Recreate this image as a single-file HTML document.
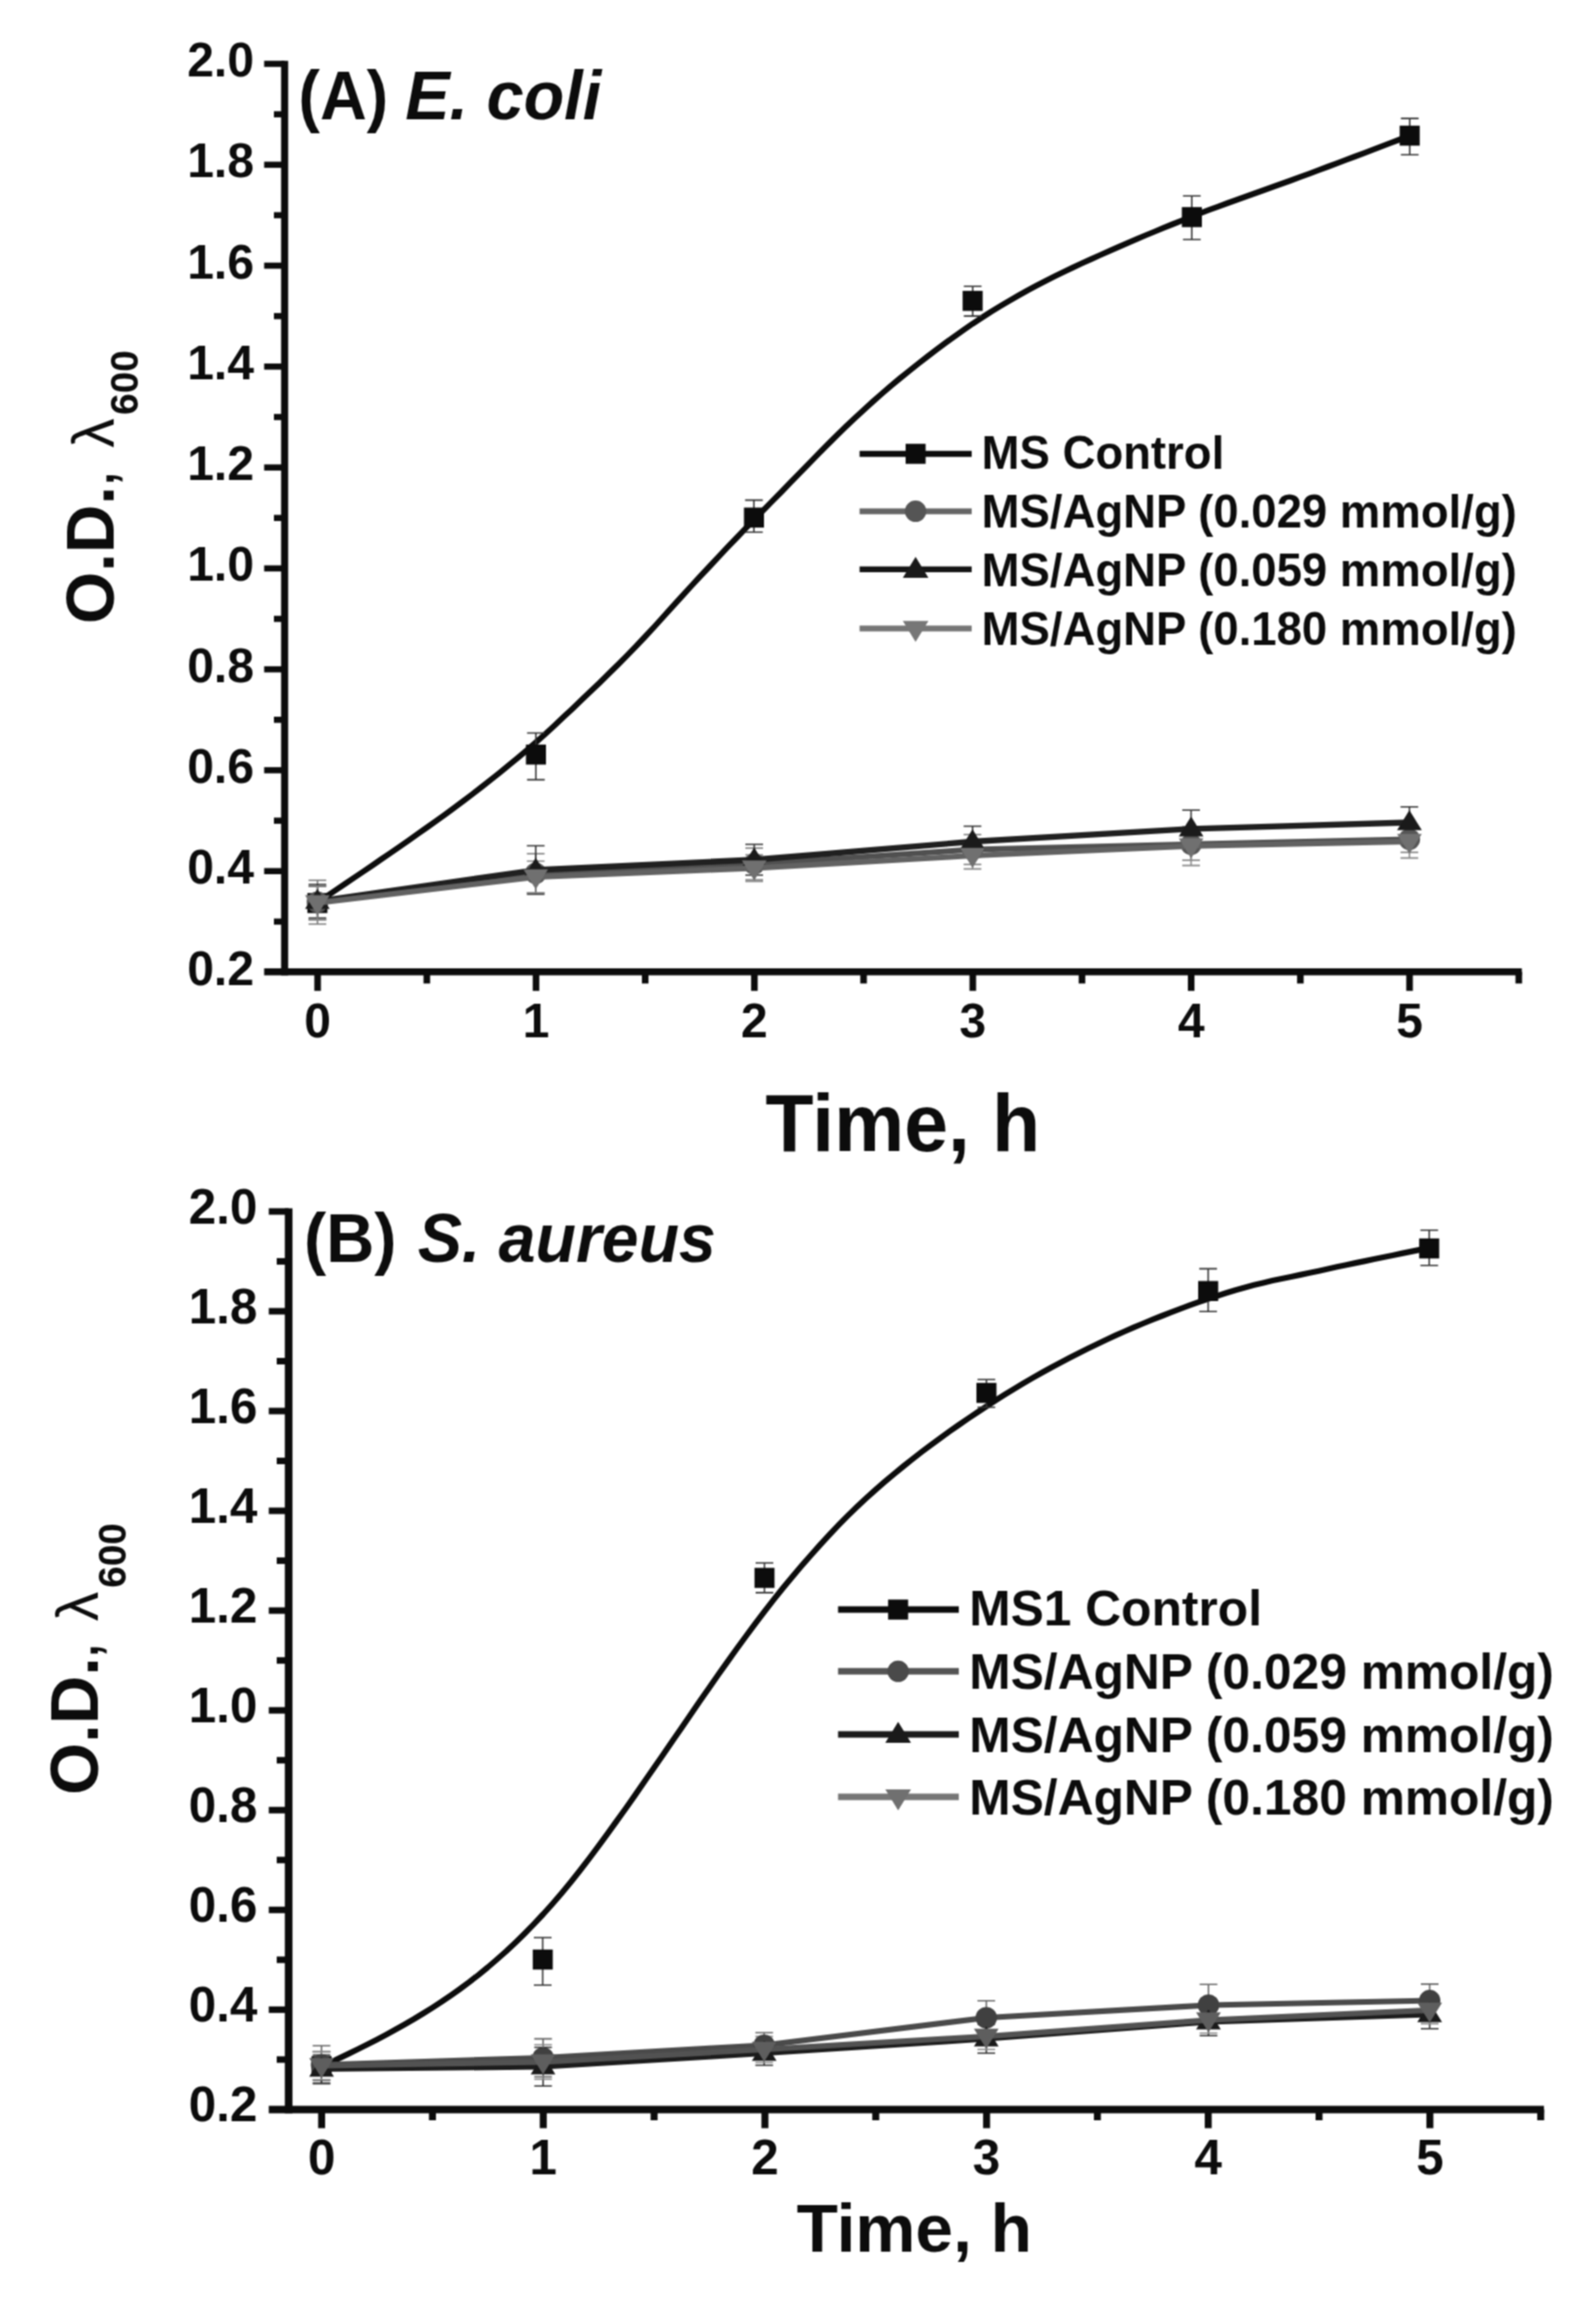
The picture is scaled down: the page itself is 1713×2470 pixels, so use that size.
<!DOCTYPE html>
<html lang="en"><head><meta charset="utf-8"><title>Growth curves</title>
<style>html,body{margin:0;padding:0;background:#fff}svg{display:block}text{font-family:'Liberation Sans', Arial, Helvetica, sans-serif}</style></head><body>
<svg width="1713" height="2470" viewBox="0 0 1713 2470">
<defs><filter id="soft" x="0" y="0" width="1713" height="2470" filterUnits="userSpaceOnUse" color-interpolation-filters="sRGB"><feConvolveMatrix order="3" kernelMatrix="1 2 1 2 4 2 1 2 1" divisor="16" edgeMode="duplicate" preserveAlpha="false"/></filter></defs>
<rect width="1713" height="2470" fill="#ffffff"/>
<g filter="url(#soft)">
<rect width="1713" height="2470" fill="#ffffff"/>
<path d="M341.0 968.1 L350.8 961.5 L360.5 955.0 L370.3 948.4 L380.1 941.8 L389.8 935.2 L399.6 928.6 L409.3 921.9 L419.1 915.2 L428.9 908.5 L438.6 901.7 L448.4 894.8 L458.2 887.9 L467.9 881.0 L477.7 873.9 L487.5 866.8 L497.2 859.5 L507.0 852.1 L516.8 844.5 L526.5 836.9 L536.3 829.1 L546.0 821.2 L555.8 813.1 L565.6 804.9 L575.3 796.4 L585.1 787.7 L594.9 778.7 L604.6 769.6 L614.4 760.4 L624.2 751.1 L633.9 741.8 L643.7 732.4 L653.5 722.8 L663.2 713.2 L673.0 703.4 L682.7 693.3 L692.5 683.0 L702.3 672.5 L712.0 661.7 L721.8 650.9 L731.6 640.1 L741.3 629.5 L751.1 618.9 L760.9 608.5 L770.6 598.1 L780.4 587.7 L790.2 577.5 L799.9 567.3 L809.7 557.3 L819.4 547.3 L829.2 537.4 L839.0 527.5 L848.7 517.4 L858.5 507.4 L868.3 497.3 L878.0 487.4 L887.8 477.5 L897.6 467.8 L907.3 458.3 L917.1 449.0 L926.9 439.9 L936.6 431.1 L946.4 422.5 L956.1 414.1 L965.9 406.0 L975.7 398.1 L985.4 390.3 L995.2 382.7 L1005.0 375.3 L1014.7 368.0 L1024.5 360.9 L1034.3 354.0 L1044.0 347.3 L1053.8 340.9 L1063.5 334.6 L1073.3 328.6 L1083.1 322.8 L1092.8 317.2 L1102.6 311.7 L1112.4 306.5 L1122.1 301.4 L1131.9 296.5 L1141.7 291.7 L1151.4 287.1 L1161.2 282.5 L1171.0 278.1 L1180.7 273.7 L1190.5 269.4 L1200.2 265.1 L1210.0 260.9 L1219.8 256.7 L1229.5 252.5 L1239.3 248.5 L1249.1 244.4 L1258.8 240.5 L1268.6 236.6 L1278.4 232.7 L1288.1 228.9 L1297.9 225.2 L1307.7 221.6 L1317.4 218.0 L1327.2 214.5 L1336.9 211.0 L1346.7 207.5 L1356.5 204.0 L1366.2 200.5 L1376.0 197.0 L1385.8 193.5 L1395.5 189.9 L1405.3 186.3 L1415.1 182.7 L1424.8 179.0 L1434.6 175.4 L1444.4 171.7 L1454.1 168.0 L1463.9 164.3 L1473.6 160.7 L1483.4 156.9 L1493.2 153.2 L1502.9 149.5 L1512.7 146.0" stroke="#0c0c0c" stroke-width="6.2" fill="none" stroke-linejoin="round"/>
<path d="M340.7 951.0V986.7M331.2 951.0h19.0M331.2 986.7h19.0" stroke="#333" stroke-width="1.6" fill="none"/>
<rect x="329.9" y="958.2" width="21.5" height="21.5" fill="#0c0c0c"/>
<path d="M575.2 786.5V836.6M565.7 786.5h19.0M565.7 836.6h19.0" stroke="#333" stroke-width="1.6" fill="none"/>
<rect x="564.5" y="798.9" width="21.5" height="21.5" fill="#0c0c0c"/>
<path d="M809.2 536.6V571.0M799.7 536.6h19.0M799.7 571.0h19.0" stroke="#333" stroke-width="1.6" fill="none"/>
<rect x="798.5" y="544.6" width="21.5" height="21.5" fill="#0c0c0c"/>
<path d="M1044.0 307.3V339.1M1034.5 307.3h19.0M1034.5 339.1h19.0" stroke="#333" stroke-width="1.6" fill="none"/>
<rect x="1033.2" y="312.1" width="21.5" height="21.5" fill="#0c0c0c"/>
<path d="M1279.2 210.2V257.0M1269.7 210.2h19.0M1269.7 257.0h19.0" stroke="#333" stroke-width="1.6" fill="none"/>
<rect x="1268.5" y="222.2" width="21.5" height="21.5" fill="#0c0c0c"/>
<path d="M1513.1 127.1V166.0M1503.6 127.1h19.0M1503.6 166.0h19.0" stroke="#333" stroke-width="1.6" fill="none"/>
<rect x="1502.3" y="134.8" width="21.5" height="21.5" fill="#0c0c0c"/>
<path d="M340.7 944.5V991.5M331.2 944.5h19.0M331.2 991.5h19.0" stroke="#777" stroke-width="1.6" fill="none"/>
<path d="M575.0 916.0V958.0M565.5 916.0h19.0M565.5 958.0h19.0" stroke="#777" stroke-width="1.6" fill="none"/>
<path d="M809.5 910.0V944.0M800.0 910.0h19.0M800.0 944.0h19.0" stroke="#777" stroke-width="1.6" fill="none"/>
<path d="M1043.8 895.5V927.5M1034.3 895.5h19.0M1034.3 927.5h19.0" stroke="#777" stroke-width="1.6" fill="none"/>
<path d="M1278.4 888.6V923.0M1268.9 888.6h19.0M1268.9 923.0h19.0" stroke="#777" stroke-width="1.6" fill="none"/>
<path d="M1512.7 886.5V914.5M1503.2 886.5h19.0M1503.2 914.5h19.0" stroke="#777" stroke-width="1.6" fill="none"/>
<path d="M340.7 949.0V985.0M331.2 949.0h19.0M331.2 985.0h19.0" stroke="#333" stroke-width="1.6" fill="none"/>
<path d="M575.0 907.5V959.5M565.5 907.5h19.0M565.5 959.5h19.0" stroke="#333" stroke-width="1.6" fill="none"/>
<path d="M809.5 906.0V939.0M800.0 906.0h19.0M800.0 939.0h19.0" stroke="#333" stroke-width="1.6" fill="none"/>
<path d="M1043.8 886.5V919.5M1034.3 886.5h19.0M1034.3 919.5h19.0" stroke="#333" stroke-width="1.6" fill="none"/>
<path d="M1278.4 869.3V909.3M1268.9 869.3h19.0M1268.9 909.3h19.0" stroke="#333" stroke-width="1.6" fill="none"/>
<path d="M1512.7 865.8V899.2M1503.2 865.8h19.0M1503.2 899.2h19.0" stroke="#333" stroke-width="1.6" fill="none"/>
<path d="M340.7 950.8V986.8M331.2 950.8h19.0M331.2 986.8h19.0" stroke="#888" stroke-width="1.6" fill="none"/>
<path d="M575.0 924.0V958.0M565.5 924.0h19.0M565.5 958.0h19.0" stroke="#888" stroke-width="1.6" fill="none"/>
<path d="M809.5 917.2V945.8M800.0 917.2h19.0M800.0 945.8h19.0" stroke="#888" stroke-width="1.6" fill="none"/>
<path d="M1043.8 903.6V932.4M1034.3 903.6h19.0M1034.3 932.4h19.0" stroke="#888" stroke-width="1.6" fill="none"/>
<path d="M1278.4 887.0V928.6M1268.9 887.0h19.0M1268.9 928.6h19.0" stroke="#888" stroke-width="1.6" fill="none"/>
<path d="M1512.7 885.4V920.6M1503.2 885.4h19.0M1503.2 920.6h19.0" stroke="#888" stroke-width="1.6" fill="none"/>
<path d="M340.7 968.0 L575.0 937.0 L809.5 927.0 L1043.8 911.5 L1278.4 905.8 L1512.7 900.5" stroke="#505050" stroke-width="6.0" fill="none" stroke-linejoin="round"/>
<circle cx="340.7" cy="968.0" r="11.5" fill="#555555"/>
<circle cx="575.0" cy="937.0" r="11.5" fill="#555555"/>
<circle cx="809.5" cy="927.0" r="11.5" fill="#555555"/>
<circle cx="1043.8" cy="911.5" r="11.5" fill="#555555"/>
<circle cx="1278.4" cy="905.8" r="11.5" fill="#555555"/>
<circle cx="1512.7" cy="900.5" r="11.5" fill="#555555"/>
<path d="M340.7 967.0 L575.0 933.5 L809.5 922.5 L1043.8 903.0 L1278.4 889.3 L1512.7 882.5" stroke="#202020" stroke-width="6.3" fill="none" stroke-linejoin="round"/>
<path d="M340.7 953.7L353.9 975.2L327.4 975.2Z" fill="#1a1a1a"/>
<path d="M575.0 920.2L588.2 941.7L561.8 941.7Z" fill="#1a1a1a"/>
<path d="M809.5 909.2L822.8 930.7L796.2 930.7Z" fill="#1a1a1a"/>
<path d="M1043.8 889.7L1057.0 911.2L1030.5 911.2Z" fill="#1a1a1a"/>
<path d="M1278.4 876.0L1291.7 897.5L1265.2 897.5Z" fill="#1a1a1a"/>
<path d="M1512.7 869.2L1526.0 890.7L1499.5 890.7Z" fill="#1a1a1a"/>
<path d="M340.7 968.8 L575.0 941.0 L809.5 931.5 L1043.8 918.0 L1278.4 907.8 L1512.7 903.0" stroke="#626262" stroke-width="6.0" fill="none" stroke-linejoin="round"/>
<path d="M340.7 982.1L353.9 960.6L327.4 960.6Z" fill="#707070"/>
<path d="M575.0 954.3L588.2 932.8L561.8 932.8Z" fill="#707070"/>
<path d="M809.5 944.8L822.8 923.3L796.2 923.3Z" fill="#707070"/>
<path d="M1043.8 931.3L1057.0 909.8L1030.5 909.8Z" fill="#707070"/>
<path d="M1278.4 921.1L1291.7 899.6L1265.2 899.6Z" fill="#707070"/>
<path d="M1512.7 916.3L1526.0 894.8L1499.5 894.8Z" fill="#707070"/>
<g fill="none" stroke="#0c0c0c">
<line x1="305.50" y1="65.20" x2="305.50" y2="1046.60" stroke="#0c0c0c" stroke-width="7.60"/>
<line x1="283.50" y1="1042.80" x2="1633.40" y2="1042.80" stroke="#0c0c0c" stroke-width="7.60"/>
<line x1="283.50" y1="68.50" x2="305.50" y2="68.50" stroke="#0c0c0c" stroke-width="6.60"/>
<line x1="294.00" y1="122.64" x2="305.50" y2="122.64" stroke="#0c0c0c" stroke-width="6.60"/>
<line x1="283.50" y1="176.78" x2="305.50" y2="176.78" stroke="#0c0c0c" stroke-width="6.60"/>
<line x1="294.00" y1="230.92" x2="305.50" y2="230.92" stroke="#0c0c0c" stroke-width="6.60"/>
<line x1="283.50" y1="285.06" x2="305.50" y2="285.06" stroke="#0c0c0c" stroke-width="6.60"/>
<line x1="294.00" y1="339.19" x2="305.50" y2="339.19" stroke="#0c0c0c" stroke-width="6.60"/>
<line x1="283.50" y1="393.33" x2="305.50" y2="393.33" stroke="#0c0c0c" stroke-width="6.60"/>
<line x1="294.00" y1="447.47" x2="305.50" y2="447.47" stroke="#0c0c0c" stroke-width="6.60"/>
<line x1="283.50" y1="501.61" x2="305.50" y2="501.61" stroke="#0c0c0c" stroke-width="6.60"/>
<line x1="294.00" y1="555.75" x2="305.50" y2="555.75" stroke="#0c0c0c" stroke-width="6.60"/>
<line x1="283.50" y1="609.89" x2="305.50" y2="609.89" stroke="#0c0c0c" stroke-width="6.60"/>
<line x1="294.00" y1="664.03" x2="305.50" y2="664.03" stroke="#0c0c0c" stroke-width="6.60"/>
<line x1="283.50" y1="718.17" x2="305.50" y2="718.17" stroke="#0c0c0c" stroke-width="6.60"/>
<line x1="294.00" y1="772.31" x2="305.50" y2="772.31" stroke="#0c0c0c" stroke-width="6.60"/>
<line x1="283.50" y1="826.44" x2="305.50" y2="826.44" stroke="#0c0c0c" stroke-width="6.60"/>
<line x1="294.00" y1="880.58" x2="305.50" y2="880.58" stroke="#0c0c0c" stroke-width="6.60"/>
<line x1="283.50" y1="934.72" x2="305.50" y2="934.72" stroke="#0c0c0c" stroke-width="6.60"/>
<line x1="294.00" y1="988.86" x2="305.50" y2="988.86" stroke="#0c0c0c" stroke-width="6.60"/>
<line x1="340.90" y1="1042.80" x2="340.90" y2="1063.20" stroke="#0c0c0c" stroke-width="7.10"/>
<line x1="458.10" y1="1042.80" x2="458.10" y2="1055.30" stroke="#0c0c0c" stroke-width="7.10"/>
<line x1="575.30" y1="1042.80" x2="575.30" y2="1063.20" stroke="#0c0c0c" stroke-width="7.10"/>
<line x1="692.50" y1="1042.80" x2="692.50" y2="1055.30" stroke="#0c0c0c" stroke-width="7.10"/>
<line x1="809.70" y1="1042.80" x2="809.70" y2="1063.20" stroke="#0c0c0c" stroke-width="7.10"/>
<line x1="926.90" y1="1042.80" x2="926.90" y2="1055.30" stroke="#0c0c0c" stroke-width="7.10"/>
<line x1="1044.10" y1="1042.80" x2="1044.10" y2="1063.20" stroke="#0c0c0c" stroke-width="7.10"/>
<line x1="1161.30" y1="1042.80" x2="1161.30" y2="1055.30" stroke="#0c0c0c" stroke-width="7.10"/>
<line x1="1278.50" y1="1042.80" x2="1278.50" y2="1063.20" stroke="#0c0c0c" stroke-width="7.10"/>
<line x1="1395.70" y1="1042.80" x2="1395.70" y2="1055.30" stroke="#0c0c0c" stroke-width="7.10"/>
<line x1="1512.90" y1="1042.80" x2="1512.90" y2="1063.20" stroke="#0c0c0c" stroke-width="7.10"/>
<line x1="1630.10" y1="1042.80" x2="1630.10" y2="1055.30" stroke="#0c0c0c" stroke-width="7.10"/>
</g>
<text transform="translate(272.60 82.10) scale(0.9920 1)" font-size="52" font-weight="700" text-anchor="end" fill="#0c0c0c">2.0</text>
<text transform="translate(272.60 190.38) scale(0.9920 1)" font-size="52" font-weight="700" text-anchor="end" fill="#0c0c0c">1.8</text>
<text transform="translate(272.60 298.66) scale(0.9920 1)" font-size="52" font-weight="700" text-anchor="end" fill="#0c0c0c">1.6</text>
<text transform="translate(272.60 406.93) scale(0.9920 1)" font-size="52" font-weight="700" text-anchor="end" fill="#0c0c0c">1.4</text>
<text transform="translate(272.60 515.21) scale(0.9920 1)" font-size="52" font-weight="700" text-anchor="end" fill="#0c0c0c">1.2</text>
<text transform="translate(272.60 623.49) scale(0.9920 1)" font-size="52" font-weight="700" text-anchor="end" fill="#0c0c0c">1.0</text>
<text transform="translate(272.60 731.77) scale(0.9920 1)" font-size="52" font-weight="700" text-anchor="end" fill="#0c0c0c">0.8</text>
<text transform="translate(272.60 840.04) scale(0.9920 1)" font-size="52" font-weight="700" text-anchor="end" fill="#0c0c0c">0.6</text>
<text transform="translate(272.60 948.32) scale(0.9920 1)" font-size="52" font-weight="700" text-anchor="end" fill="#0c0c0c">0.4</text>
<text transform="translate(272.60 1056.60) scale(0.9920 1)" font-size="52" font-weight="700" text-anchor="end" fill="#0c0c0c">0.2</text>
<text transform="translate(340.90 1112.80) scale(0.9920 1)" font-size="52" font-weight="700" text-anchor="middle" fill="#0c0c0c">0</text>
<text transform="translate(575.30 1112.80) scale(0.9920 1)" font-size="52" font-weight="700" text-anchor="middle" fill="#0c0c0c">1</text>
<text transform="translate(809.70 1112.80) scale(0.9920 1)" font-size="52" font-weight="700" text-anchor="middle" fill="#0c0c0c">2</text>
<text transform="translate(1044.10 1112.80) scale(0.9920 1)" font-size="52" font-weight="700" text-anchor="middle" fill="#0c0c0c">3</text>
<text transform="translate(1278.50 1112.80) scale(0.9920 1)" font-size="52" font-weight="700" text-anchor="middle" fill="#0c0c0c">4</text>
<text transform="translate(1512.90 1112.80) scale(0.9920 1)" font-size="52" font-weight="700" text-anchor="middle" fill="#0c0c0c">5</text>
<text transform="translate(320.30 128.40) scale(0.9450 1)" font-size="73.5" font-weight="700" fill="#0c0c0c">(A)</text>
<text transform="translate(434.90 128.40) scale(0.9720 1)" font-size="73.5" font-weight="700" font-style="italic" fill="#0c0c0c">E. coli</text>
<text transform="translate(821.60 1235.30) scale(0.9620 1)" font-size="88" font-weight="700" fill="#0c0c0c">Time, h</text>
<text transform="translate(121.60 669.40) rotate(-90) scale(0.9850 1)" font-size="73" font-weight="700" fill="#0c0c0c">O.D.</text>
<text transform="translate(121.60 523.50) rotate(-90)" font-size="72" font-weight="400" fill="#0c0c0c">,</text>
<text transform="translate(121.60 480.50) rotate(-90)" font-size="63" font-weight="400" fill="#0c0c0c">λ</text>
<text transform="translate(148.20 445.30) rotate(-90) scale(0.9700 1)" font-size="43" font-weight="700" fill="#0c0c0c">600</text>
<line x1="922.60" y1="487.00" x2="1042.90" y2="487.00" stroke="#0c0c0c" stroke-width="6.30"/>
<rect x="972.0" y="476.2" width="21.5" height="21.5" fill="#0c0c0c"/>
<text transform="translate(1053.60 502.60) scale(0.9890 1)" font-size="49.4" font-weight="700" fill="#0c0c0c">MS Control</text>
<line x1="922.60" y1="548.60" x2="1042.90" y2="548.60" stroke="#666666" stroke-width="6.30"/>
<circle cx="982.7" cy="548.6" r="11.5" fill="#555555"/>
<text transform="translate(1053.60 566.00) scale(0.9890 1)" font-size="49.4" font-weight="700" fill="#0c0c0c">MS/AgNP (0.029 mmol/g)</text>
<line x1="922.60" y1="610.90" x2="1042.90" y2="610.90" stroke="#161616" stroke-width="6.30"/>
<path d="M982.7 597.4L996.5 619.9L969.0 619.9Z" fill="#1a1a1a"/>
<text transform="translate(1053.60 629.20) scale(0.9890 1)" font-size="49.4" font-weight="700" fill="#0c0c0c">MS/AgNP (0.059 mmol/g)</text>
<line x1="922.60" y1="674.30" x2="1042.90" y2="674.30" stroke="#767676" stroke-width="6.30"/>
<path d="M982.7 688.8L996.5 666.2L969.0 666.2Z" fill="#777777"/>
<text transform="translate(1053.60 692.30) scale(0.9890 1)" font-size="49.4" font-weight="700" fill="#0c0c0c">MS/AgNP (0.180 mmol/g)</text>
<path d="M345.0 2217.4 L354.9 2212.8 L364.8 2208.1 L374.7 2203.4 L384.6 2198.5 L394.6 2193.5 L404.5 2188.4 L414.4 2183.2 L424.3 2177.8 L434.2 2172.2 L444.1 2166.5 L454.0 2160.5 L463.9 2154.3 L473.8 2147.9 L483.8 2141.1 L493.7 2134.1 L503.6 2126.8 L513.5 2119.1 L523.4 2111.0 L533.3 2102.5 L543.2 2093.7 L553.1 2084.4 L563.0 2074.7 L572.9 2064.6 L582.9 2054.0 L592.8 2043.0 L602.7 2031.5 L612.6 2019.5 L622.5 2007.0 L632.4 1994.1 L642.3 1980.9 L652.2 1967.4 L662.1 1953.6 L672.1 1939.7 L682.0 1925.6 L691.9 1911.3 L701.8 1897.0 L711.7 1882.7 L721.6 1868.3 L731.5 1853.9 L741.4 1839.5 L751.3 1825.1 L761.3 1810.8 L771.2 1796.6 L781.1 1782.6 L791.0 1768.8 L800.9 1755.2 L810.8 1741.9 L820.7 1728.8 L830.6 1716.1 L840.5 1703.8 L850.5 1691.8 L860.4 1680.1 L870.3 1668.7 L880.2 1657.6 L890.1 1646.8 L900.0 1636.4 L909.9 1626.4 L919.8 1616.8 L929.7 1607.5 L939.6 1598.6 L949.6 1589.9 L959.5 1581.6 L969.4 1573.5 L979.3 1565.6 L989.2 1557.9 L999.1 1550.5 L1009.0 1543.2 L1018.9 1536.1 L1028.8 1529.1 L1038.8 1522.3 L1048.7 1515.6 L1058.6 1509.1 L1068.5 1502.7 L1078.4 1496.4 L1088.3 1490.4 L1098.2 1484.4 L1108.1 1478.6 L1118.0 1473.0 L1128.0 1467.5 L1137.9 1462.2 L1147.8 1457.0 L1157.7 1451.9 L1167.6 1447.0 L1177.5 1442.2 L1187.4 1437.5 L1197.3 1432.9 L1207.2 1428.5 L1217.2 1424.2 L1227.1 1420.0 L1237.0 1415.9 L1246.9 1412.0 L1256.8 1408.1 L1266.7 1404.4 L1276.6 1400.7 L1286.5 1397.2 L1296.4 1393.8 L1306.4 1390.5 L1316.3 1387.3 L1326.2 1384.2 L1336.1 1381.4 L1346.0 1378.8 L1355.9 1376.4 L1365.8 1374.1 L1375.7 1372.0 L1385.6 1370.0 L1395.5 1367.9 L1405.5 1365.8 L1415.4 1363.7 L1425.3 1361.5 L1435.2 1359.3 L1445.1 1357.2 L1455.0 1355.1 L1464.9 1353.1 L1474.8 1351.0 L1484.7 1349.0 L1494.7 1347.0 L1504.6 1344.9 L1514.5 1342.9 L1524.4 1340.9 L1534.3 1339.1" stroke="#0c0c0c" stroke-width="6.2" fill="none" stroke-linejoin="round"/>
<path d="M345.1 2201.5V2232.0M335.6 2201.5h19.0M335.6 2232.0h19.0" stroke="#333" stroke-width="1.6" fill="none"/>
<rect x="334.4" y="2206.2" width="21.5" height="21.5" fill="#0c0c0c"/>
<path d="M582.5 2079.0V2130.0M573.0 2079.0h19.0M573.0 2130.0h19.0" stroke="#333" stroke-width="1.6" fill="none"/>
<rect x="571.8" y="2091.8" width="21.5" height="21.5" fill="#0c0c0c"/>
<path d="M820.5 1677.0V1708.9M811.0 1677.0h19.0M811.0 1708.9h19.0" stroke="#333" stroke-width="1.6" fill="none"/>
<rect x="809.8" y="1682.3" width="21.5" height="21.5" fill="#0c0c0c"/>
<path d="M1058.7 1480.2V1510.0M1049.2 1480.2h19.0M1049.2 1510.0h19.0" stroke="#333" stroke-width="1.6" fill="none"/>
<rect x="1048.0" y="1483.8" width="21.5" height="21.5" fill="#0c0c0c"/>
<path d="M1296.7 1361.4V1407.3M1287.2 1361.4h19.0M1287.2 1407.3h19.0" stroke="#333" stroke-width="1.6" fill="none"/>
<rect x="1286.0" y="1374.5" width="21.5" height="21.5" fill="#0c0c0c"/>
<path d="M1534.0 1320.0V1357.7M1524.5 1320.0h19.0M1524.5 1357.7h19.0" stroke="#333" stroke-width="1.6" fill="none"/>
<rect x="1523.2" y="1328.8" width="21.5" height="21.5" fill="#0c0c0c"/>
<path d="M345.1 2195.0V2236.0M335.6 2195.0h19.0M335.6 2236.0h19.0" stroke="#666" stroke-width="1.6" fill="none"/>
<path d="M582.9 2187.6V2228.4M573.4 2187.6h19.0M573.4 2228.4h19.0" stroke="#666" stroke-width="1.6" fill="none"/>
<path d="M820.2 2181.0V2208.0M810.7 2181.0h19.0M810.7 2208.0h19.0" stroke="#666" stroke-width="1.6" fill="none"/>
<path d="M1058.6 2146.8V2183.2M1049.1 2146.8h19.0M1049.1 2183.2h19.0" stroke="#666" stroke-width="1.6" fill="none"/>
<path d="M1297.1 2129.2V2173.8M1287.6 2129.2h19.0M1287.6 2173.8h19.0" stroke="#666" stroke-width="1.6" fill="none"/>
<path d="M1534.5 2128.9V2164.3M1525.0 2128.9h19.0M1525.0 2164.3h19.0" stroke="#666" stroke-width="1.6" fill="none"/>
<path d="M345.1 2205.0V2235.0M335.6 2205.0h19.0M335.6 2235.0h19.0" stroke="#333" stroke-width="1.6" fill="none"/>
<path d="M582.9 2196.7V2238.3M573.4 2196.7h19.0M573.4 2238.3h19.0" stroke="#333" stroke-width="1.6" fill="none"/>
<path d="M820.2 2190.0V2216.0M810.7 2190.0h19.0M810.7 2216.0h19.0" stroke="#333" stroke-width="1.6" fill="none"/>
<path d="M1058.6 2172.0V2203.0M1049.1 2172.0h19.0M1049.1 2203.0h19.0" stroke="#333" stroke-width="1.6" fill="none"/>
<path d="M1297.1 2154.3V2184.3M1287.6 2154.3h19.0M1287.6 2184.3h19.0" stroke="#333" stroke-width="1.6" fill="none"/>
<path d="M1534.5 2146.3V2176.7M1525.0 2146.3h19.0M1525.0 2176.7h19.0" stroke="#333" stroke-width="1.6" fill="none"/>
<path d="M345.1 2201.5V2231.5M335.6 2201.5h19.0M335.6 2231.5h19.0" stroke="#888" stroke-width="1.6" fill="none"/>
<path d="M582.9 2194.0V2231.0M573.4 2194.0h19.0M573.4 2231.0h19.0" stroke="#888" stroke-width="1.6" fill="none"/>
<path d="M820.2 2185.0V2213.0M810.7 2185.0h19.0M810.7 2213.0h19.0" stroke="#888" stroke-width="1.6" fill="none"/>
<path d="M1058.6 2171.0V2199.0M1049.1 2171.0h19.0M1049.1 2199.0h19.0" stroke="#888" stroke-width="1.6" fill="none"/>
<path d="M1297.1 2153.5V2181.5M1287.6 2153.5h19.0M1287.6 2181.5h19.0" stroke="#888" stroke-width="1.6" fill="none"/>
<path d="M1534.5 2142.6V2171.4M1525.0 2142.6h19.0M1525.0 2171.4h19.0" stroke="#888" stroke-width="1.6" fill="none"/>
<path d="M345.1 2215.5 L582.9 2208.0 L820.2 2194.5 L1058.6 2165.0 L1297.1 2151.5 L1534.5 2146.6" stroke="#4a4a4a" stroke-width="6.2" fill="none" stroke-linejoin="round"/>
<circle cx="345.1" cy="2215.5" r="11.5" fill="#404040"/>
<circle cx="582.9" cy="2208.0" r="11.5" fill="#404040"/>
<circle cx="820.2" cy="2194.5" r="11.5" fill="#404040"/>
<circle cx="1058.6" cy="2165.0" r="11.5" fill="#404040"/>
<circle cx="1297.1" cy="2151.5" r="11.5" fill="#404040"/>
<circle cx="1534.5" cy="2146.6" r="11.5" fill="#404040"/>
<path d="M345.1 2220.0 L582.9 2217.5 L820.2 2203.0 L1058.6 2187.5 L1297.1 2169.3 L1534.5 2161.5" stroke="#1c1c1c" stroke-width="6.2" fill="none" stroke-linejoin="round"/>
<path d="M345.1 2206.7L358.4 2228.2L331.9 2228.2Z" fill="#1a1a1a"/>
<path d="M582.9 2204.2L596.1 2225.7L569.6 2225.7Z" fill="#1a1a1a"/>
<path d="M820.2 2189.7L833.5 2211.2L807.0 2211.2Z" fill="#1a1a1a"/>
<path d="M1058.6 2174.2L1071.8 2195.7L1045.3 2195.7Z" fill="#1a1a1a"/>
<path d="M1297.1 2156.0L1310.3 2177.5L1283.8 2177.5Z" fill="#1a1a1a"/>
<path d="M1534.5 2148.2L1547.8 2169.7L1521.2 2169.7Z" fill="#1a1a1a"/>
<path d="M345.1 2216.5 L582.9 2212.5 L820.2 2199.0 L1058.6 2185.0 L1297.1 2167.5 L1534.5 2157.0" stroke="#525252" stroke-width="6.0" fill="none" stroke-linejoin="round"/>
<path d="M345.1 2229.8L358.4 2208.3L331.9 2208.3Z" fill="#5e5e5e"/>
<path d="M582.9 2225.8L596.1 2204.3L569.6 2204.3Z" fill="#5e5e5e"/>
<path d="M820.2 2212.3L833.5 2190.8L807.0 2190.8Z" fill="#5e5e5e"/>
<path d="M1058.6 2198.3L1071.8 2176.8L1045.3 2176.8Z" fill="#5e5e5e"/>
<path d="M1297.1 2180.8L1310.3 2159.3L1283.8 2159.3Z" fill="#5e5e5e"/>
<path d="M1534.5 2170.3L1547.8 2148.8L1521.2 2148.8Z" fill="#5e5e5e"/>
<g fill="none" stroke="#0c0c0c">
<line x1="309.80" y1="1296.40" x2="309.80" y2="2267.40" stroke="#0c0c0c" stroke-width="8.20"/>
<line x1="288.50" y1="2263.40" x2="1657.15" y2="2263.40" stroke="#0c0c0c" stroke-width="8.00"/>
<line x1="288.50" y1="1299.90" x2="309.80" y2="1299.90" stroke="#0c0c0c" stroke-width="7.00"/>
<line x1="297.00" y1="1353.43" x2="309.80" y2="1353.43" stroke="#0c0c0c" stroke-width="7.00"/>
<line x1="288.50" y1="1406.96" x2="309.80" y2="1406.96" stroke="#0c0c0c" stroke-width="7.00"/>
<line x1="297.00" y1="1460.48" x2="309.80" y2="1460.48" stroke="#0c0c0c" stroke-width="7.00"/>
<line x1="288.50" y1="1514.01" x2="309.80" y2="1514.01" stroke="#0c0c0c" stroke-width="7.00"/>
<line x1="297.00" y1="1567.54" x2="309.80" y2="1567.54" stroke="#0c0c0c" stroke-width="7.00"/>
<line x1="288.50" y1="1621.07" x2="309.80" y2="1621.07" stroke="#0c0c0c" stroke-width="7.00"/>
<line x1="297.00" y1="1674.59" x2="309.80" y2="1674.59" stroke="#0c0c0c" stroke-width="7.00"/>
<line x1="288.50" y1="1728.12" x2="309.80" y2="1728.12" stroke="#0c0c0c" stroke-width="7.00"/>
<line x1="297.00" y1="1781.65" x2="309.80" y2="1781.65" stroke="#0c0c0c" stroke-width="7.00"/>
<line x1="288.50" y1="1835.18" x2="309.80" y2="1835.18" stroke="#0c0c0c" stroke-width="7.00"/>
<line x1="297.00" y1="1888.71" x2="309.80" y2="1888.71" stroke="#0c0c0c" stroke-width="7.00"/>
<line x1="288.50" y1="1942.23" x2="309.80" y2="1942.23" stroke="#0c0c0c" stroke-width="7.00"/>
<line x1="297.00" y1="1995.76" x2="309.80" y2="1995.76" stroke="#0c0c0c" stroke-width="7.00"/>
<line x1="288.50" y1="2049.29" x2="309.80" y2="2049.29" stroke="#0c0c0c" stroke-width="7.00"/>
<line x1="297.00" y1="2102.82" x2="309.80" y2="2102.82" stroke="#0c0c0c" stroke-width="7.00"/>
<line x1="288.50" y1="2156.34" x2="309.80" y2="2156.34" stroke="#0c0c0c" stroke-width="7.00"/>
<line x1="297.00" y1="2209.87" x2="309.80" y2="2209.87" stroke="#0c0c0c" stroke-width="7.00"/>
<line x1="345.20" y1="2263.40" x2="345.20" y2="2283.50" stroke="#0c0c0c" stroke-width="7.50"/>
<line x1="464.15" y1="2263.40" x2="464.15" y2="2275.00" stroke="#0c0c0c" stroke-width="7.50"/>
<line x1="583.10" y1="2263.40" x2="583.10" y2="2283.50" stroke="#0c0c0c" stroke-width="7.50"/>
<line x1="702.05" y1="2263.40" x2="702.05" y2="2275.00" stroke="#0c0c0c" stroke-width="7.50"/>
<line x1="821.00" y1="2263.40" x2="821.00" y2="2283.50" stroke="#0c0c0c" stroke-width="7.50"/>
<line x1="939.95" y1="2263.40" x2="939.95" y2="2275.00" stroke="#0c0c0c" stroke-width="7.50"/>
<line x1="1058.90" y1="2263.40" x2="1058.90" y2="2283.50" stroke="#0c0c0c" stroke-width="7.50"/>
<line x1="1177.85" y1="2263.40" x2="1177.85" y2="2275.00" stroke="#0c0c0c" stroke-width="7.50"/>
<line x1="1296.80" y1="2263.40" x2="1296.80" y2="2283.50" stroke="#0c0c0c" stroke-width="7.50"/>
<line x1="1415.75" y1="2263.40" x2="1415.75" y2="2275.00" stroke="#0c0c0c" stroke-width="7.50"/>
<line x1="1534.70" y1="2263.40" x2="1534.70" y2="2283.50" stroke="#0c0c0c" stroke-width="7.50"/>
<line x1="1653.65" y1="2263.40" x2="1653.65" y2="2275.00" stroke="#0c0c0c" stroke-width="7.50"/>
</g>
<text transform="translate(276.40 1312.80) scale(0.9750 1)" font-size="54.5" font-weight="700" text-anchor="end" fill="#0c0c0c">2.0</text>
<text transform="translate(276.40 1419.86) scale(0.9750 1)" font-size="54.5" font-weight="700" text-anchor="end" fill="#0c0c0c">1.8</text>
<text transform="translate(276.40 1526.91) scale(0.9750 1)" font-size="54.5" font-weight="700" text-anchor="end" fill="#0c0c0c">1.6</text>
<text transform="translate(276.40 1633.97) scale(0.9750 1)" font-size="54.5" font-weight="700" text-anchor="end" fill="#0c0c0c">1.4</text>
<text transform="translate(276.40 1741.02) scale(0.9750 1)" font-size="54.5" font-weight="700" text-anchor="end" fill="#0c0c0c">1.2</text>
<text transform="translate(276.40 1848.08) scale(0.9750 1)" font-size="54.5" font-weight="700" text-anchor="end" fill="#0c0c0c">1.0</text>
<text transform="translate(276.40 1955.13) scale(0.9750 1)" font-size="54.5" font-weight="700" text-anchor="end" fill="#0c0c0c">0.8</text>
<text transform="translate(276.40 2062.19) scale(0.9750 1)" font-size="54.5" font-weight="700" text-anchor="end" fill="#0c0c0c">0.6</text>
<text transform="translate(276.40 2169.24) scale(0.9750 1)" font-size="54.5" font-weight="700" text-anchor="end" fill="#0c0c0c">0.4</text>
<text transform="translate(276.40 2276.30) scale(0.9750 1)" font-size="54.5" font-weight="700" text-anchor="end" fill="#0c0c0c">0.2</text>
<text transform="translate(345.20 2333.20) scale(0.9750 1)" font-size="54.5" font-weight="700" text-anchor="middle" fill="#0c0c0c">0</text>
<text transform="translate(583.10 2333.20) scale(0.9750 1)" font-size="54.5" font-weight="700" text-anchor="middle" fill="#0c0c0c">1</text>
<text transform="translate(821.00 2333.20) scale(0.9750 1)" font-size="54.5" font-weight="700" text-anchor="middle" fill="#0c0c0c">2</text>
<text transform="translate(1058.90 2333.20) scale(0.9750 1)" font-size="54.5" font-weight="700" text-anchor="middle" fill="#0c0c0c">3</text>
<text transform="translate(1296.80 2333.20) scale(0.9750 1)" font-size="54.5" font-weight="700" text-anchor="middle" fill="#0c0c0c">4</text>
<text transform="translate(1534.70 2333.20) scale(0.9750 1)" font-size="54.5" font-weight="700" text-anchor="middle" fill="#0c0c0c">5</text>
<text transform="translate(326.20 1353.70) scale(0.9750 1)" font-size="73.5" font-weight="700" fill="#0c0c0c">(B)</text>
<text transform="translate(448.40 1353.70) scale(0.9670 1)" font-size="73.5" font-weight="700" font-style="italic" fill="#0c0c0c">S. aureus</text>
<text transform="translate(854.90 2416.00) scale(1.0150 1)" font-size="71.5" font-weight="700" fill="#0c0c0c">Time, h</text>
<text transform="translate(105.20 1925.90) rotate(-90) scale(0.9850 1)" font-size="73" font-weight="700" fill="#0c0c0c">O.D.</text>
<text transform="translate(105.20 1781.00) rotate(-90)" font-size="72" font-weight="400" fill="#0c0c0c">,</text>
<text transform="translate(105.20 1739.50) rotate(-90)" font-size="63" font-weight="400" fill="#0c0c0c">λ</text>
<text transform="translate(135.20 1703.80) rotate(-90) scale(0.9700 1)" font-size="43" font-weight="700" fill="#0c0c0c">600</text>
<line x1="899.50" y1="1727.10" x2="1029.10" y2="1727.10" stroke="#0c0c0c" stroke-width="7.00"/>
<rect x="953.2" y="1716.3" width="21.5" height="21.5" fill="#0c0c0c"/>
<text transform="translate(1040.30 1744.20) scale(1.0070 1)" font-size="53" font-weight="700" fill="#0c0c0c">MS1 Control</text>
<line x1="899.50" y1="1793.30" x2="1029.10" y2="1793.30" stroke="#555555" stroke-width="7.00"/>
<circle cx="964.0" cy="1793.3" r="11.5" fill="#4a4a4a"/>
<text transform="translate(1040.30 1812.30) scale(1.0070 1)" font-size="53" font-weight="700" fill="#0c0c0c">MS/AgNP (0.029 mmol/g)</text>
<line x1="899.50" y1="1860.90" x2="1029.10" y2="1860.90" stroke="#1c1c1c" stroke-width="7.00"/>
<path d="M964.0 1847.5L977.8 1870.0L950.2 1870.0Z" fill="#1a1a1a"/>
<text transform="translate(1040.30 1879.50) scale(1.0070 1)" font-size="53" font-weight="700" fill="#0c0c0c">MS/AgNP (0.059 mmol/g)</text>
<line x1="899.50" y1="1928.10" x2="1029.10" y2="1928.10" stroke="#767676" stroke-width="7.00"/>
<path d="M964.0 1942.5L977.8 1920.0L950.2 1920.0Z" fill="#707070"/>
<text transform="translate(1040.30 1946.60) scale(1.0070 1)" font-size="53" font-weight="700" fill="#0c0c0c">MS/AgNP (0.180 mmol/g)</text>
</g>
</svg></body></html>
